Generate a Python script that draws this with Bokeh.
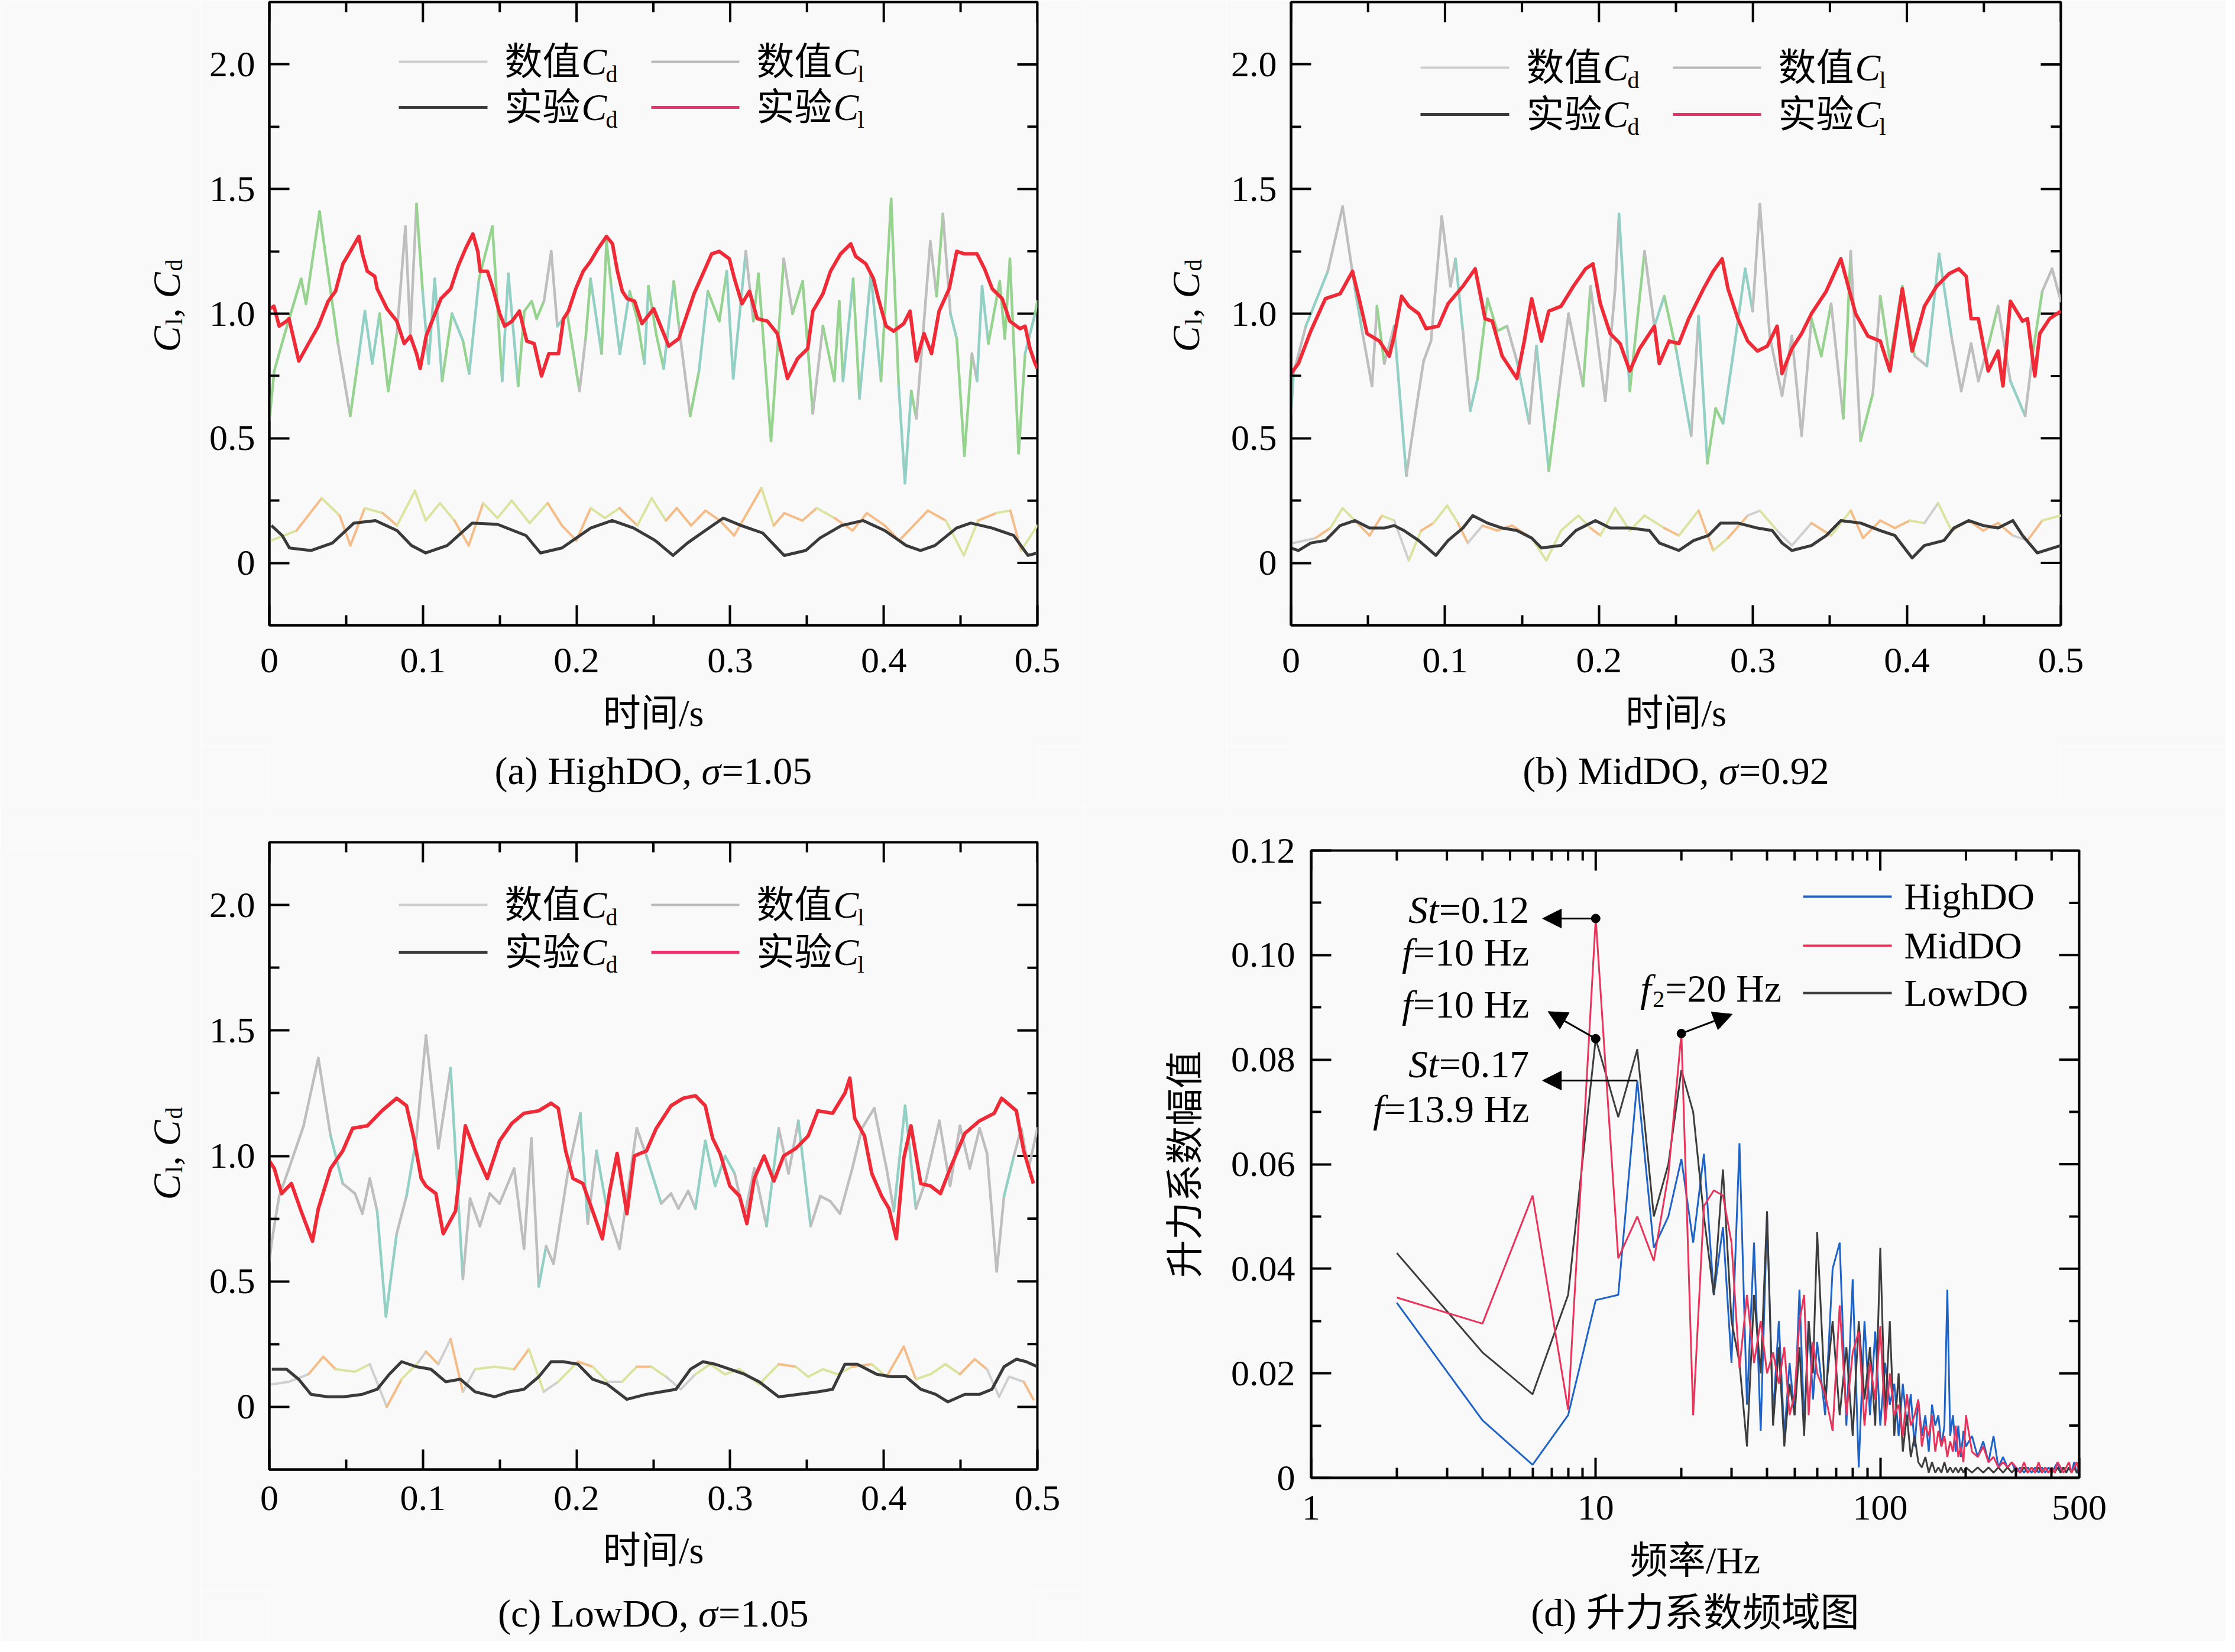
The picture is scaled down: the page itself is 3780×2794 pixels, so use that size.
import math
from bokeh.plotting import figure
from bokeh.layouts import column, row
from bokeh.models import (Range1d, FixedTicker, Label, Title, Arrow, NormalHead, PrintfTickFormatter)
from bokeh.embed import file_html
from bokeh.resources import INLINE

# ======================= DATA =======================
# ---- (a) HighDO ----
a_num_cl_t = [0.0, 0.0032, 0.0096, 0.0207, 0.0239, 0.0327, 0.0383, 0.0447, 0.0527, 0.0575, 0.0622, 0.067, 0.0718, 0.0774, 0.083, 0.0886, 0.0918, 0.0958, 0.0998, 0.1037, 0.1077, 0.1125, 0.1189, 0.1229, 0.1261, 0.1301, 0.1365, 0.1452, 0.1516, 0.1556, 0.162, 0.166, 0.1708, 0.174, 0.1788, 0.1835, 0.1875, 0.1939, 0.2019, 0.2059, 0.2091, 0.2163, 0.2195, 0.2226, 0.2282, 0.2346, 0.2394, 0.2442, 0.2468, 0.2518, 0.2567, 0.2633, 0.2666, 0.274, 0.2797, 0.2855, 0.2929, 0.2978, 0.302, 0.3102, 0.3151, 0.3184, 0.3266, 0.3349, 0.3406, 0.3472, 0.3538, 0.3604, 0.3678, 0.371, 0.3735, 0.3801, 0.3842, 0.3916, 0.3982, 0.4048, 0.4097, 0.4138, 0.4179, 0.4212, 0.4262, 0.4303, 0.4344, 0.4385, 0.4434, 0.4475, 0.4525, 0.4574, 0.4607, 0.464, 0.4681, 0.4755, 0.4788, 0.4821, 0.4878, 0.492, 0.4985, 0.5]
a_num_cl = [0.57, 0.77, 0.91, 1.14, 1.04, 1.41, 1.16, 0.88, 0.59, 0.8, 1.01, 0.8, 1.0, 0.69, 0.92, 1.35, 0.92, 1.44, 1.09, 0.8, 1.14, 0.73, 1.0, 0.94, 0.89, 0.76, 1.14, 1.35, 0.73, 1.16, 0.71, 1.01, 1.05, 0.98, 1.05, 1.25, 0.95, 1.0, 0.69, 0.9, 1.14, 0.84, 1.29, 1.11, 0.84, 1.09, 0.98, 0.8, 1.11, 0.92, 0.78, 1.13, 0.95, 0.59, 0.77, 1.09, 0.97, 1.17, 0.74, 1.25, 0.97, 1.16, 0.49, 1.22, 1.0, 1.13, 0.6, 0.95, 0.73, 1.05, 0.73, 1.14, 0.66, 1.16, 0.73, 1.46, 0.71, 0.32, 0.69, 0.58, 0.97, 1.29, 1.07, 1.4, 1.0, 0.9, 0.43, 0.84, 0.73, 1.11, 0.88, 1.13, 0.9, 1.22, 0.44, 0.84, 1.0, 1.05]
a_exp_cl_t = [0.0, 0.003, 0.0064, 0.0112, 0.0128, 0.0192, 0.0255, 0.0319, 0.0383, 0.0431, 0.0479, 0.0527, 0.0583, 0.0606, 0.0638, 0.0686, 0.0702, 0.0766, 0.083, 0.0878, 0.0918, 0.0958, 0.0982, 0.1021, 0.1117, 0.1181, 0.1229, 0.1277, 0.1325, 0.1357, 0.1373, 0.142, 0.1452, 0.15, 0.1532, 0.158, 0.1628, 0.166, 0.1676, 0.1724, 0.1772, 0.182, 0.1883, 0.1915, 0.1947, 0.1995, 0.2043, 0.2091, 0.2139, 0.2195, 0.2234, 0.2266, 0.2298, 0.233, 0.2378, 0.2426, 0.2502, 0.26, 0.2666, 0.2765, 0.283, 0.288, 0.2929, 0.2995, 0.3028, 0.3077, 0.3126, 0.3176, 0.3242, 0.3307, 0.3373, 0.3439, 0.3505, 0.3538, 0.3604, 0.3653, 0.3719, 0.3785, 0.3817, 0.3883, 0.3933, 0.3965, 0.4015, 0.4064, 0.413, 0.4171, 0.4212, 0.4262, 0.4311, 0.436, 0.4426, 0.4475, 0.4525, 0.4607, 0.4656, 0.4706, 0.4771, 0.4821, 0.4887, 0.492, 0.4952, 0.4985, 0.5]
a_exp_cl = [1.02, 1.03, 0.95, 0.97, 0.98, 0.81, 0.88, 0.95, 1.05, 1.09, 1.2, 1.25, 1.31, 1.24, 1.17, 1.15, 1.1, 1.02, 0.97, 0.88, 0.91, 0.84, 0.78, 0.91, 1.06, 1.1, 1.19, 1.26, 1.32, 1.25, 1.17, 1.17, 1.11, 1.0, 0.95, 0.97, 1.01, 0.93, 0.89, 0.88, 0.75, 0.84, 0.84, 0.98, 1.01, 1.1, 1.17, 1.21, 1.26, 1.31, 1.28, 1.17, 1.09, 1.06, 1.05, 0.96, 1.02, 0.87, 0.9, 1.08, 1.17, 1.24, 1.25, 1.22, 1.14, 1.04, 1.09, 0.98, 0.97, 0.92, 0.74, 0.82, 0.86, 1.01, 1.08, 1.17, 1.24, 1.28, 1.23, 1.2, 1.14, 1.06, 0.95, 0.93, 0.96, 1.01, 0.81, 0.92, 0.84, 1.01, 1.1, 1.25, 1.24, 1.24, 1.18, 1.1, 1.06, 0.97, 0.94, 0.95, 0.86, 0.8, 0.78]
a_exp_cd_t = [0.0014, 0.0084, 0.0131, 0.0271, 0.0411, 0.0551, 0.0691, 0.0831, 0.0925, 0.1018, 0.1158, 0.1321, 0.1485, 0.1671, 0.1765, 0.1905, 0.2092, 0.2232, 0.2372, 0.2512, 0.2628, 0.2722, 0.2838, 0.2955, 0.3072, 0.3212, 0.3352, 0.3492, 0.3585, 0.3725, 0.3866, 0.4006, 0.4146, 0.4239, 0.4333, 0.4473, 0.4566, 0.4706, 0.4846, 0.4939, 0.5]
a_exp_cd = [0.15, 0.11, 0.06, 0.05, 0.08, 0.16, 0.17, 0.13, 0.07, 0.04, 0.07, 0.16, 0.155, 0.11, 0.04, 0.06, 0.14, 0.17, 0.14, 0.09, 0.03, 0.08, 0.13, 0.18, 0.15, 0.12, 0.03, 0.05, 0.1, 0.15, 0.17, 0.13, 0.07, 0.05, 0.07, 0.14, 0.16, 0.14, 0.11, 0.03, 0.04]
a_num_cd_t = [0.0014, 0.0177, 0.0341, 0.0458, 0.0528, 0.0621, 0.0738, 0.0831, 0.0948, 0.1018, 0.1111, 0.1205, 0.1298, 0.1392, 0.1485, 0.1578, 0.1695, 0.1812, 0.1905, 0.1999, 0.2092, 0.2185, 0.2279, 0.2396, 0.2489, 0.2582, 0.2652, 0.2746, 0.2839, 0.2933, 0.3026, 0.312, 0.3204, 0.3283, 0.3353, 0.347, 0.3563, 0.368, 0.3797, 0.389, 0.4007, 0.41, 0.4194, 0.4287, 0.4404, 0.4521, 0.4614, 0.4731, 0.4824, 0.4894, 0.5]
a_num_cd = [0.09, 0.13, 0.26, 0.19, 0.07, 0.22, 0.2, 0.15, 0.29, 0.17, 0.24, 0.17, 0.07, 0.24, 0.18, 0.25, 0.16, 0.24, 0.15, 0.09, 0.22, 0.18, 0.22, 0.15, 0.26, 0.17, 0.22, 0.15, 0.21, 0.17, 0.11, 0.21, 0.3, 0.15, 0.2, 0.17, 0.22, 0.18, 0.13, 0.2, 0.15, 0.09, 0.15, 0.21, 0.17, 0.03, 0.17, 0.2, 0.21, 0.05, 0.15]

# ---- (b) MidDO ----
b_num_cl_t = [0.0, 0.0016, 0.0096, 0.0239, 0.0335, 0.0415, 0.0462, 0.0526, 0.0558, 0.0606, 0.067, 0.0749, 0.0813, 0.0861, 0.0909, 0.0979, 0.1036, 0.1068, 0.1116, 0.1164, 0.1212, 0.1276, 0.1339, 0.1403, 0.1467, 0.1547, 0.1594, 0.1674, 0.1738, 0.1802, 0.1897, 0.1945, 0.2041, 0.2105, 0.213, 0.22, 0.2296, 0.236, 0.2424, 0.2503, 0.2599, 0.2647, 0.2704, 0.2758, 0.2806, 0.287, 0.295, 0.2998, 0.3045, 0.3109, 0.3189, 0.3253, 0.3316, 0.338, 0.3444, 0.3508, 0.3587, 0.3635, 0.3699, 0.3779, 0.3827, 0.389, 0.397, 0.405, 0.413, 0.4209, 0.4289, 0.4353, 0.4417, 0.4464, 0.4528, 0.4592, 0.4672, 0.4768, 0.4815, 0.4879, 0.4943, 0.5]
b_num_cl = [0.6, 0.76, 0.95, 1.17, 1.43, 1.1, 0.93, 0.71, 1.03, 0.8, 0.95, 0.35, 0.62, 0.81, 0.89, 1.39, 1.11, 1.22, 0.93, 0.61, 0.74, 1.06, 0.93, 0.95, 0.81, 0.56, 0.87, 0.37, 0.68, 1.0, 0.71, 1.11, 0.65, 1.1, 1.4, 0.69, 1.25, 0.95, 1.07, 0.85, 0.51, 0.99, 0.4, 0.62, 0.56, 0.83, 1.18, 1.01, 1.44, 0.91, 0.67, 0.91, 0.51, 0.98, 0.83, 1.04, 0.58, 1.25, 0.49, 0.68, 1.07, 0.81, 1.11, 0.83, 0.79, 1.24, 0.91, 0.69, 0.88, 0.73, 0.87, 1.03, 0.73, 0.59, 0.83, 1.09, 1.18, 1.05]
b_exp_cl_t = [0.0, 0.0048, 0.0128, 0.0223, 0.0319, 0.0399, 0.0446, 0.0494, 0.0574, 0.0638, 0.067, 0.0718, 0.0765, 0.0829, 0.0877, 0.0957, 0.102, 0.1116, 0.1196, 0.126, 0.1307, 0.1371, 0.1467, 0.1515, 0.1563, 0.1626, 0.1674, 0.1754, 0.1834, 0.1913, 0.1961, 0.2009, 0.2073, 0.2137, 0.22, 0.2264, 0.236, 0.2392, 0.2455, 0.2519, 0.2583, 0.2679, 0.2742, 0.28, 0.2838, 0.2902, 0.2966, 0.3029, 0.3093, 0.3157, 0.3189, 0.3253, 0.3316, 0.338, 0.3476, 0.3571, 0.3619, 0.3667, 0.3747, 0.3827, 0.389, 0.397, 0.4034, 0.4114, 0.4193, 0.4273, 0.4337, 0.4385, 0.4417, 0.4464, 0.4528, 0.4592, 0.4624, 0.4672, 0.4751, 0.4783, 0.4831, 0.4863, 0.4927, 0.5]
b_exp_cl = [0.76, 0.8, 0.93, 1.06, 1.08, 1.17, 1.05, 0.92, 0.89, 0.83, 0.91, 1.07, 1.03, 1.0, 0.94, 0.95, 1.04, 1.11, 1.18, 0.98, 0.97, 0.83, 0.74, 0.89, 1.06, 0.89, 1.01, 1.03, 1.11, 1.18, 1.2, 1.04, 0.92, 0.88, 0.77, 0.86, 0.95, 0.8, 0.89, 0.88, 0.98, 1.1, 1.17, 1.22, 1.1, 0.98, 0.89, 0.85, 0.87, 0.95, 0.76, 0.86, 0.92, 1.0, 1.09, 1.22, 1.11, 1.0, 0.91, 0.89, 0.77, 1.1, 0.85, 1.03, 1.11, 1.16, 1.18, 1.15, 0.98, 0.98, 0.77, 0.85, 0.71, 1.05, 0.97, 0.98, 0.75, 0.92, 0.98, 1.01]
b_exp_cd_t = [0.0, 0.0048, 0.0128, 0.0223, 0.0319, 0.0415, 0.051, 0.0606, 0.067, 0.0733, 0.0829, 0.0941, 0.102, 0.1116, 0.118, 0.1276, 0.1371, 0.1467, 0.1563, 0.1626, 0.1754, 0.185, 0.1977, 0.2073, 0.22, 0.2328, 0.2392, 0.2519, 0.2615, 0.2711, 0.279, 0.2902, 0.3029, 0.3125, 0.3189, 0.3253, 0.338, 0.3476, 0.3571, 0.3699, 0.3827, 0.3922, 0.4034, 0.4114, 0.4241, 0.4305, 0.4401, 0.4496, 0.4592, 0.4688, 0.4751, 0.4847, 0.5]
b_exp_cd = [0.06, 0.05, 0.08, 0.09, 0.15, 0.17, 0.14, 0.14, 0.15, 0.13, 0.09, 0.03, 0.09, 0.14, 0.19, 0.16, 0.14, 0.13, 0.1, 0.06, 0.07, 0.13, 0.17, 0.14, 0.14, 0.13, 0.08, 0.05, 0.09, 0.11, 0.16, 0.16, 0.14, 0.13, 0.08, 0.05, 0.07, 0.11, 0.17, 0.16, 0.13, 0.11, 0.02, 0.07, 0.09, 0.14, 0.17, 0.15, 0.14, 0.17, 0.11, 0.04, 0.07]
b_num_cd_t = [0.0016, 0.0159, 0.0255, 0.0335, 0.0415, 0.051, 0.059, 0.067, 0.0765, 0.0845, 0.0925, 0.1014, 0.1084, 0.1148, 0.1244, 0.1339, 0.1435, 0.1563, 0.1658, 0.1754, 0.1866, 0.1945, 0.2009, 0.2105, 0.22, 0.2296, 0.2424, 0.2519, 0.2647, 0.2742, 0.2838, 0.2966, 0.3045, 0.3157, 0.3253, 0.338, 0.3508, 0.3635, 0.3715, 0.3827, 0.3922, 0.4018, 0.4114, 0.4203, 0.4289, 0.4401, 0.4496, 0.4592, 0.4688, 0.4783, 0.4879, 0.5]
b_num_cd = [0.08, 0.1, 0.14, 0.22, 0.17, 0.11, 0.19, 0.17, 0.01, 0.13, 0.16, 0.23, 0.16, 0.08, 0.15, 0.13, 0.15, 0.1, 0.01, 0.13, 0.19, 0.14, 0.11, 0.22, 0.13, 0.19, 0.14, 0.11, 0.21, 0.05, 0.1, 0.19, 0.21, 0.13, 0.07, 0.16, 0.11, 0.21, 0.1, 0.17, 0.14, 0.17, 0.16, 0.24, 0.13, 0.17, 0.13, 0.16, 0.11, 0.09, 0.17, 0.19]

# ---- (c) LowDO ----
c_num_cl_t = [0.0, 0.0016, 0.0064, 0.0128, 0.0223, 0.0319, 0.0399, 0.0478, 0.0558, 0.0606, 0.0654, 0.0702, 0.0759, 0.0829, 0.0893, 0.0957, 0.102, 0.11, 0.118, 0.126, 0.1307, 0.1371, 0.1435, 0.1499, 0.1594, 0.1658, 0.1706, 0.1754, 0.1802, 0.185, 0.1945, 0.2025, 0.2073, 0.213, 0.22, 0.228, 0.2392, 0.2455, 0.2551, 0.2615, 0.2663, 0.2727, 0.2774, 0.2838, 0.2902, 0.2966, 0.3029, 0.3093, 0.3157, 0.3237, 0.3316, 0.338, 0.3444, 0.3524, 0.3587, 0.3651, 0.3715, 0.3795, 0.3858, 0.3938, 0.4018, 0.4066, 0.4139, 0.4209, 0.4273, 0.4362, 0.4432, 0.4496, 0.456, 0.4624, 0.4672, 0.4735, 0.4783, 0.4847, 0.4895, 0.4943, 0.5]
c_num_cl = [0.58, 0.66, 0.84, 0.95, 1.12, 1.39, 1.08, 0.89, 0.85, 0.77, 0.91, 0.78, 0.36, 0.69, 0.84, 1.07, 1.48, 1.03, 1.35, 0.51, 0.83, 0.72, 0.85, 0.81, 0.95, 0.63, 1.07, 0.48, 0.64, 0.57, 0.94, 1.17, 0.73, 1.02, 0.78, 0.63, 1.11, 1.0, 0.81, 0.85, 0.79, 0.86, 0.79, 1.06, 0.88, 1.0, 0.93, 0.76, 0.95, 0.72, 1.11, 0.93, 1.14, 0.72, 0.84, 0.82, 0.77, 0.95, 1.11, 1.19, 0.95, 0.78, 1.2, 0.79, 0.9, 1.14, 0.88, 1.12, 0.95, 1.11, 1.01, 0.54, 0.84, 1.0, 1.11, 0.95, 1.11]
c_exp_cl_t = [0.0, 0.0032, 0.008, 0.0144, 0.0207, 0.0281, 0.0319, 0.0399, 0.0478, 0.0542, 0.0638, 0.0733, 0.0829, 0.0893, 0.0941, 0.0989, 0.102, 0.1084, 0.1132, 0.1212, 0.1244, 0.1276, 0.1339, 0.1419, 0.1499, 0.1579, 0.1658, 0.1754, 0.1834, 0.1881, 0.1929, 0.1977, 0.2041, 0.2105, 0.2168, 0.2216, 0.2264, 0.2328, 0.2376, 0.2455, 0.2519, 0.2615, 0.2695, 0.2774, 0.2838, 0.2886, 0.2934, 0.2998, 0.3061, 0.3109, 0.3157, 0.3221, 0.3285, 0.3348, 0.3428, 0.3508, 0.3571, 0.3667, 0.3747, 0.3779, 0.3811, 0.3874, 0.3922, 0.3986, 0.4034, 0.4082, 0.413, 0.4177, 0.4241, 0.4305, 0.4369, 0.4432, 0.4528, 0.4624, 0.4719, 0.4767, 0.4863, 0.4911, 0.4974]
c_exp_cl = [0.98, 0.95, 0.85, 0.89, 0.78, 0.66, 0.79, 0.95, 1.02, 1.11, 1.12, 1.18, 1.23, 1.2, 1.07, 0.91, 0.88, 0.85, 0.69, 0.78, 0.95, 1.12, 1.02, 0.91, 1.06, 1.13, 1.17, 1.18, 1.21, 1.19, 1.02, 0.91, 0.89, 0.78, 0.67, 0.86, 1.01, 0.77, 1.0, 1.02, 1.11, 1.2, 1.23, 1.24, 1.2, 1.07, 1.01, 0.88, 0.84, 0.73, 0.91, 1.0, 0.9, 1.0, 1.03, 1.08, 1.18, 1.17, 1.25, 1.31, 1.15, 1.08, 0.93, 0.84, 0.79, 0.67, 0.99, 1.12, 0.89, 0.88, 0.85, 0.95, 1.09, 1.14, 1.17, 1.23, 1.18, 1.02, 0.89]
c_exp_cd_t = [0.0016, 0.0112, 0.0191, 0.0271, 0.0383, 0.0478, 0.0606, 0.0702, 0.0781, 0.0861, 0.0957, 0.1052, 0.1148, 0.1244, 0.1339, 0.1467, 0.1563, 0.1658, 0.1754, 0.1834, 0.1913, 0.2009, 0.2105, 0.22, 0.2264, 0.2328, 0.2455, 0.2551, 0.2647, 0.2742, 0.2822, 0.2902, 0.2998, 0.3093, 0.3189, 0.3316, 0.3444, 0.3571, 0.3667, 0.3747, 0.3827, 0.3954, 0.405, 0.4145, 0.4241, 0.4337, 0.4417, 0.4528, 0.4624, 0.4704, 0.4783, 0.4863, 0.4927, 0.5]
c_exp_cd = [0.15, 0.15, 0.11, 0.05, 0.04, 0.04, 0.05, 0.07, 0.13, 0.18, 0.16, 0.15, 0.1, 0.11, 0.06, 0.04, 0.06, 0.07, 0.12, 0.18, 0.18, 0.17, 0.11, 0.09, 0.06, 0.03, 0.05, 0.06, 0.07, 0.15, 0.18, 0.17, 0.15, 0.13, 0.1, 0.04, 0.05, 0.06, 0.07, 0.17, 0.17, 0.13, 0.12, 0.12, 0.07, 0.05, 0.02, 0.05, 0.05, 0.07, 0.16, 0.19, 0.18, 0.16]
c_num_cd_t = [0.0016, 0.0128, 0.0255, 0.0351, 0.0431, 0.0558, 0.0654, 0.0765, 0.0861, 0.0973, 0.102, 0.11, 0.118, 0.126, 0.1339, 0.1467, 0.1594, 0.169, 0.1786, 0.1881, 0.2009, 0.2105, 0.22, 0.2296, 0.2392, 0.2487, 0.2583, 0.2679, 0.2774, 0.287, 0.2966, 0.3061, 0.3189, 0.3316, 0.3428, 0.3508, 0.3603, 0.3699, 0.3795, 0.3922, 0.4018, 0.413, 0.4209, 0.4305, 0.4401, 0.4496, 0.4592, 0.4672, 0.4751, 0.4815, 0.4911, 0.4974]
c_num_cd = [0.09, 0.1, 0.13, 0.2, 0.15, 0.14, 0.17, 0.0, 0.11, 0.18, 0.22, 0.17, 0.27, 0.06, 0.15, 0.16, 0.15, 0.23, 0.06, 0.1, 0.18, 0.16, 0.1, 0.1, 0.16, 0.16, 0.12, 0.07, 0.13, 0.17, 0.13, 0.15, 0.09, 0.17, 0.16, 0.12, 0.15, 0.13, 0.16, 0.17, 0.12, 0.24, 0.11, 0.13, 0.17, 0.13, 0.19, 0.15, 0.04, 0.12, 0.1, 0.03]

# ---- (d) lift-coefficient spectrum ----
freq = [2, 4, 6, 8, 10, 12, 14, 16, 18, 20, 22, 24, 26, 28, 30, 32, 34, 36, 38, 40, 42, 44, 46, 48, 50, 52, 54, 56, 58, 60,
        64, 68, 72, 76, 80, 84, 88, 92, 96, 100, 104, 108, 112, 116, 120, 124, 128, 132, 136, 140, 144, 148, 152, 156, 160, 164, 168, 172, 176, 180, 184, 188, 192, 196, 200,
        210, 220, 230, 240, 250, 260, 270, 280, 290, 300, 310, 320, 330, 340, 350, 360, 370, 380, 390, 400, 410, 420, 430, 440, 450, 460, 470, 480, 490, 500]
amp_high = [0.0335, 0.011, 0.0025, 0.012, 0.034, 0.035, 0.076, 0.044, 0.050, 0.061, 0.045, 0.062, 0.035, 0.048, 0.022, 0.064, 0.014, 0.045, 0.009, 0.050, 0.012, 0.030, 0.008, 0.022, 0.012, 0.036, 0.010, 0.030, 0.015, 0.026,
            0.012, 0.040, 0.045, 0.010, 0.038, 0.002, 0.030, 0.012, 0.028, 0.010, 0.022, 0.014, 0.018, 0.008, 0.018, 0.010, 0.016, 0.006, 0.015, 0.008, 0.012, 0.005, 0.014, 0.010, 0.012, 0.006, 0.010, 0.036, 0.008, 0.012, 0.005, 0.010, 0.004, 0.009, 0.006,
            0.008, 0.004, 0.007, 0.003, 0.008, 0.002, 0.004, 0.002, 0.003, 0.001, 0.002, 0.001, 0.002, 0.001, 0.002, 0.001, 0.002, 0.001, 0.002, 0.001, 0.002, 0.003, 0.001, 0.002, 0.001, 0.002, 0.001, 0.003, 0.001, 0.001]
amp_mid = [0.0345, 0.0295, 0.054, 0.013, 0.107, 0.042, 0.050, 0.0415, 0.058, 0.085, 0.012, 0.052, 0.055, 0.054, 0.045, 0.021, 0.035, 0.022, 0.030, 0.020, 0.024, 0.018, 0.025, 0.012, 0.016, 0.030, 0.035, 0.012, 0.026, 0.020,
           0.016, 0.009, 0.033, 0.012, 0.024, 0.028, 0.010, 0.022, 0.015, 0.029, 0.010, 0.020, 0.012, 0.014, 0.008, 0.016, 0.010, 0.012, 0.015, 0.006, 0.010, 0.008, 0.012, 0.005, 0.009, 0.006, 0.008, 0.004, 0.007, 0.005, 0.010, 0.004, 0.006, 0.003, 0.012,
           0.005, 0.004, 0.006, 0.003, 0.004, 0.002, 0.003, 0.002, 0.003, 0.002, 0.001, 0.003, 0.001, 0.002, 0.001, 0.003, 0.001, 0.002, 0.001, 0.002, 0.001, 0.003, 0.002, 0.001, 0.002, 0.003, 0.001, 0.002, 0.003, 0.001]
amp_low = [0.043, 0.024, 0.016, 0.035, 0.084, 0.069, 0.082, 0.050, 0.060, 0.078, 0.070, 0.050, 0.035, 0.059, 0.030, 0.022, 0.006, 0.035, 0.020, 0.051, 0.010, 0.025, 0.006, 0.018, 0.012, 0.025, 0.008, 0.030, 0.020, 0.047,
           0.015, 0.030, 0.012, 0.025, 0.008, 0.030, 0.015, 0.025, 0.010, 0.044, 0.012, 0.030, 0.008, 0.020, 0.005, 0.012, 0.004, 0.008, 0.003, 0.002, 0.004, 0.001, 0.003, 0.001, 0.002, 0.001, 0.003, 0.001, 0.002, 0.001, 0.002, 0.001, 0.002, 0.001, 0.002,
           0.001, 0.002, 0.001, 0.002, 0.001, 0.002, 0.001, 0.002, 0.001, 0.002, 0.001, 0.002, 0.001, 0.002, 0.001, 0.002, 0.001, 0.002, 0.001, 0.002, 0.001, 0.002, 0.001, 0.002, 0.001, 0.002, 0.001, 0.002, 0.001, 0.002]

time_ticks = [0, 0.1, 0.2, 0.3, 0.4, 0.5]
time_minor = [0.05, 0.15, 0.25, 0.35, 0.45]
coef_ticks = [0, 0.5, 1.0, 1.5, 2.0]
coef_minor = [0.25, 0.75, 1.25, 1.75]
amp_ticks = [0, 0.02, 0.04, 0.06, 0.08, 0.10, 0.12]
amp_minor = [0.01, 0.03, 0.05, 0.07, 0.09, 0.11]
freq_ticks = [1, 10, 100, 500]
freq_minor = [2, 3, 4, 5, 6, 7, 8, 9, 20, 30, 40, 50, 60, 70, 80, 90, 200, 300, 400]
cap_heads = ["(a) HighDO, ", "(b) MidDO, ", "(c) LowDO, "]
cap_sigma = ["=1.05", "=0.92", "=1.05"]
cap_d = "(d) 升力系数频域图"

# ======================= STYLE =======================
SERIF = "Liberation Serif, Noto Sans CJK SC"
BG = "#f9f9f9"
CL_GREEN, CL_TEAL, CL_GRAY = "#95d38f", "#92cfc4", "#bebebe"
CD_ORANGE, CD_YEL, CD_GRAY = "#f6bc88", "#dbe39e", "#cfcfcf"
EXP_CL = "#ef2b38"
EXP_CD = "#3a3a3a"
MAJ, MIN = 34, 17


def style_axis(ax, standoff=20):
    ax.axis_line_color = "black"
    ax.axis_line_width = 4
    ax.major_tick_line_color = "black"
    ax.major_tick_line_width = 4
    ax.minor_tick_line_color = "black"
    ax.minor_tick_line_width = 4
    ax.major_tick_in = MAJ
    ax.major_tick_out = 0
    ax.minor_tick_in = MIN
    ax.minor_tick_out = 0
    ax.major_label_text_font = SERIF
    ax.major_label_text_color = "black"
    ax.major_label_text_font_size = "62px"
    ax.major_label_standoff = standoff
    ax.axis_label_text_font = SERIF
    ax.axis_label_text_font_size = "64px"
    ax.axis_label_text_font_style = "normal"
    ax.axis_label_text_color = "black"


def lab(p, x, y, text, size, style="normal", align="left", baseline="middle", angle=0.0, xoff=0):
    p.add_layout(Label(x=x, y=y, text=text, text_font=SERIF, text_font_size=f"{size}px",
                       text_font_style=style, text_align=align, text_baseline=baseline,
                       angle=angle, x_offset=xoff, text_color="black"))


class Frame:
    def __init__(self, fw, fh, x0, x1, y0, y1, logx=False):
        self.fw, self.fh, self.x0, self.x1, self.y0, self.y1, self.logx = fw, fh, x0, x1, y0, y1, logx

    def x(self, px):
        if self.logx:
            a, b = math.log10(self.x0), math.log10(self.x1)
            return 10 ** (a + px / self.fw * (b - a))
        return self.x0 + px / self.fw * (self.x1 - self.x0)

    def y(self, py):
        return self.y1 - py / self.fh * (self.y1 - self.y0)


def mirror_ticks(p, F, xt, xm, yt, ym):
    # inward ticks on the top and right frame edges
    x0, y0, x1, y1 = [], [], [], []
    for v, L in [(v, MAJ) for v in xt] + [(v, MIN) for v in xm]:
        x0.append(v); x1.append(v); y0.append(F.y(0)); y1.append(F.y(L))
    for v, L in [(v, MAJ) for v in yt] + [(v, MIN) for v in ym]:
        y0.append(v); y1.append(v); x0.append(F.x(F.fw)); x1.append(F.x(F.fw - L))
    p.segment(x0=x0, y0=y0, x1=x1, y1=y1, line_color="black", line_width=4)


def banded(p, t, v, palette, band, width):
    n = min(len(t), len(v))
    x0, y0, x1, y1, cols = [], [], [], [], []
    for i in range(n - 1):
        mid = 0.5 * (v[i] + v[i + 1])
        k = int(math.floor(mid / band)) % len(palette)
        x0.append(t[i]); y0.append(v[i]); x1.append(t[i + 1]); y1.append(v[i + 1])
        cols.append(palette[k])
    p.segment(x0=x0, y0=y0, x1=x1, y1=y1, line_color=cols, line_width=width, line_cap="round")


def cut(t, v):
    n = min(len(t), len(v))
    return list(t[:n]), list(v[:n])


def strip(fw, fh, left=0, right=0, top=0, bottom=0):
    s = figure(frame_width=fw, frame_height=fh, x_range=Range1d(0, fw), y_range=Range1d(0, fh),
               x_axis_type=None, y_axis_type=None, output_backend="svg", toolbar_location=None,
               min_border_left=left, min_border_right=right, min_border_top=top, min_border_bottom=bottom,
               background_fill_color=BG, border_fill_color=BG, outline_line_color=None)
    s.grid.visible = False
    return s


def time_panel(fw, fh, mbl, mbr, mbt, mbb, data, leg_rows, pal_cl, pal_cd, x_std, xl_std):
    num_cl_t, num_cl, exp_cl_t, exp_cl, num_cd_t, num_cd, exp_cd_t, exp_cd = data
    p = figure(frame_width=fw, frame_height=fh, x_range=Range1d(0, 0.5), y_range=Range1d(-0.25, 2.25),
               output_backend="svg", toolbar_location=None,
               min_border_left=mbl, min_border_right=mbr, min_border_top=mbt, min_border_bottom=mbb,
               background_fill_color=BG, border_fill_color=BG,
               outline_line_color="black", outline_line_width=4)
    p.grid.visible = False
    p.xaxis.ticker = FixedTicker(ticks=time_ticks, minor_ticks=time_minor)
    p.yaxis.ticker = FixedTicker(ticks=coef_ticks, minor_ticks=coef_minor)
    p.xaxis.formatter = PrintfTickFormatter(format="%.1f")
    p.yaxis.formatter = PrintfTickFormatter(format="%.1f")
    p.xaxis.major_label_overrides = {0: "0"}
    p.yaxis.major_label_overrides = {0: "0"}
    for ax in p.xaxis:
        style_axis(ax, x_std)
        ax.axis_label = "时间/s"
        ax.axis_label_standoff = xl_std
    for ax in p.yaxis:
        style_axis(ax, 24)
    F = Frame(fw, fh, 0, 0.5, -0.25, 2.25)
    mirror_ticks(p, F, time_ticks, time_minor, coef_ticks, coef_minor)

    t, v = cut(num_cd_t, num_cd)
    banded(p, t, v, pal_cd, 0.04, 4)
    t, v = cut(num_cl_t, num_cl)
    banded(p, t, v, pal_cl, 0.1, 4.5)
    t, v = cut(exp_cd_t, exp_cd)
    p.line(t, v, line_color=EXP_CD, line_width=5, line_join="round")
    t, v = cut(exp_cl_t, exp_cl)
    p.line(t, v, line_color=EXP_CL, line_width=6, line_join="round")

    # legend (inside the frame)
    cols = [(219, 369, 398), (646, 795, 824)]
    items = [[("数值", "d", "#cdcdcd", 4), ("数值", "l", "#b9b9b9", 4)],
             [("实验", "d", EXP_CD, 5), ("实验", "l", "#e8336a", 5)]]
    for r, py in enumerate(leg_rows):
        for c, (l0, l1, tx) in enumerate(cols):
            word, sub, color, w = items[r][c]
            yy = F.y(py)
            p.segment(x0=[F.x(l0)], y0=[yy], x1=[F.x(l1)], y1=[yy], line_color=color, line_width=w)
            lab(p, F.x(tx), yy, word, 64)
            lab(p, F.x(tx + 130), yy, "C", 64, style="italic")
            lab(p, F.x(tx + 171), F.y(py + 21), sub, 40)
    return p


def ylabel_strip(width, fh, cx, ybottom, top=0, bottom=0):
    # rotated rich axis title  C_l, C_d
    s = strip(width, fh, top=top, bottom=bottom)
    rot = math.pi / 2
    lab(s, cx, ybottom, "C", 66, style="italic", angle=rot)
    lab(s, cx + 13, ybottom + 46, "l", 40, angle=rot)
    lab(s, cx, ybottom + 58, ",", 66, angle=rot)
    lab(s, cx, ybottom + 91, "C", 66, style="italic", angle=rot)
    lab(s, cx + 13, ybottom + 137, "d", 40, angle=rot)
    return s


def caption_strip(fw, left, right, height, cy, head, tail, w_head):
    # caption "(x) Name, σ=value" with italic sigma, centred on the plot frame above
    s = strip(fw, height, left=left, right=right)
    w_sig, w_tail = 34, 153
    start = fw / 2 - (w_head + w_sig + w_tail) / 2
    P = start + w_head
    lab(s, P, cy, head, 66, align="right")
    lab(s, P, cy, "σ", 66, style="italic")
    lab(s, P + w_sig, cy, tail, 66)
    return s


ROW1_H = 3 + 1054 + 205 + 100

ya = ylabel_strip(340, ROW1_H, 281, ROW1_H - 595)
pa = time_panel(1299, 1054, 115, 80, 3, 205,
                (a_num_cl_t, a_num_cl, a_exp_cl_t, a_exp_cl, a_num_cd_t, a_num_cd, a_exp_cd_t, a_exp_cd),
                (101, 178), [CL_GREEN, CL_TEAL, CL_GREEN, CL_GRAY],
                [CD_ORANGE, CD_ORANGE, CD_YEL], 39, 31)
cap_a = caption_strip(1299, 115, 80, 100, 59, cap_heads[0], cap_sigma[0], 350)
yb = ylabel_strip(240, ROW1_H, 171, ROW1_H - 595)
pb = time_panel(1302, 1054, 109, 279, 3, 205,
                (b_num_cl_t, b_num_cl, b_exp_cl_t, b_exp_cl, b_num_cd_t, b_num_cd, b_exp_cd_t, b_exp_cd),
                (111, 190), [CL_GRAY, CL_GREEN, CL_TEAL, CL_GRAY],
                [CD_ORANGE, CD_YEL, CD_GRAY], 39, 31)
cap_b = caption_strip(1302, 109, 279, 100, 59, cap_heads[1], cap_sigma[1], 332)

# row 2: the label strip shares its frame geometry with panel (d) (frames in a row are aligned)
D_TOP, D_FH, D_BOT = 76, 1061, 276
yc = ylabel_strip(340, D_FH, 281, D_FH - 591, top=D_TOP, bottom=D_BOT)
pc = time_panel(1299, 1061, 115, 80, 62, 205,
                (c_num_cl_t, c_num_cl, c_exp_cl_t, c_exp_cl, c_num_cd_t, c_num_cd, c_exp_cd_t, c_exp_cd),
                (106, 186), [CL_GRAY, CL_TEAL, CL_GRAY, CL_GRAY],
                [CD_YEL, CD_ORANGE, CD_GRAY], 28, 30)
cap_c = caption_strip(1299, 115, 80, 85, 47, cap_heads[2], cap_sigma[2], 339)

# ---------------- (d) spectrum ----------------
FW, FH = 1299, D_FH
pd = figure(frame_width=FW, frame_height=FH, x_axis_type="log", x_range=Range1d(1, 500), y_range=Range1d(0, 0.12),
            output_backend="svg", toolbar_location=None,
            min_border_left=383, min_border_right=248, min_border_top=D_TOP, min_border_bottom=D_BOT,
            background_fill_color=BG, border_fill_color=BG,
            outline_line_color="black", outline_line_width=4)
pd.grid.visible = False
pd.xaxis.ticker = FixedTicker(ticks=freq_ticks, minor_ticks=freq_minor)
pd.yaxis.ticker = FixedTicker(ticks=amp_ticks, minor_ticks=amp_minor)
pd.xaxis.formatter = PrintfTickFormatter(format="%d")
pd.yaxis.formatter = PrintfTickFormatter(format="%.2f")
pd.yaxis.major_label_overrides = {0: "0"}
for ax in pd.xaxis:
    style_axis(ax, 30)
    ax.axis_label = "频率/Hz"
    ax.axis_label_standoff = 31
for ax in pd.yaxis:
    style_axis(ax, 27)
    ax.axis_label = "升力系数幅值"
    ax.axis_label_standoff = 39
pd.add_layout(Title(text=cap_d, align="center", text_font=SERIF, text_font_size="66px",
                    text_font_style="normal", text_color="black", standoff=22), "below")
FD = Frame(FW, FH, 1, 500, 0, 0.12, logx=True)
mirror_ticks(pd, FD, freq_ticks, freq_minor, amp_ticks, amp_minor)

BLUE, RED, GRAY = "#1f63c6", "#e8335a", "#3d3d3d"
pd.line(freq, amp_high, line_color=BLUE, line_width=3)
pd.line(freq, amp_low, line_color=GRAY, line_width=3)
pd.line(freq, amp_mid, line_color=RED, line_width=3)

i10, i14, i20 = freq.index(10), freq.index(14), freq.index(20)
peak_f = [freq[i10], freq[i10], freq[i20]]
peak_a = [amp_mid[i10], amp_low[i10], amp_mid[i20]]
pd.scatter(peak_f, peak_a, size=15, color="black")


def arrow(x0, y0, x1, y1):
    pd.add_layout(Arrow(x_start=x0, y_start=y0, x_end=x1, y_end=y1,
                        end=NormalHead(size=32, fill_color="black", line_color="black", line_width=1),
                        line_width=3, line_color="black"))


arrow(peak_f[0], peak_a[0], 6.5, peak_a[0])
arrow(peak_f[1], peak_a[1], 6.8, 0.0892)
arrow(freq[i14], amp_high[i14], 6.5, amp_high[i14])
arrow(peak_f[2], peak_a[2], 30.2, 0.0887)

XR = 5.84
lab(pd, XR, 0.1087, "=0.12", 66, align="right")
lab(pd, XR, 0.1087, "St", 66, style="italic", align="right", xoff=-153)
lab(pd, XR, 0.1006, "=10 Hz", 66, align="right")
lab(pd, XR, 0.1006, "f", 66, style="italic", align="right", xoff=-197)
lab(pd, XR, 0.0906, "=10 Hz", 66, align="right")
lab(pd, XR, 0.0906, "f", 66, style="italic", align="right", xoff=-197)
lab(pd, XR, 0.0792, "=0.17", 66, align="right")
lab(pd, XR, 0.0792, "St", 66, style="italic", align="right", xoff=-153)
lab(pd, XR, 0.0706, "=13.9 Hz", 66, align="right")
lab(pd, XR, 0.0706, "f", 66, style="italic", align="right", xoff=-246)
lab(pd, 14.35, 0.0937, "f", 66, style="italic")
lab(pd, 14.35, 0.0937 - 0.0022, "2", 40, xoff=21)
lab(pd, 14.35, 0.0937, "=20 Hz", 66, xoff=42)

leg_names = ["HighDO", "MidDO", "LowDO"]
leg_cols = [BLUE, RED, GRAY]
for k, py in enumerate([78, 161, 241]):
    yy = FD.y(py)
    pd.segment(x0=[FD.x(832)], y0=[yy], x1=[FD.x(982)], y1=[yy], line_color=leg_cols[k], line_width=4)
    lab(pd, FD.x(1003), yy, leg_names[k], 64)

layout = column(row(ya, column(pa, cap_a), yb, column(pb, cap_b)),
                row(yc, column(pc, cap_c), pd))
with open("out.html", "w") as f:
    f.write(file_html(layout, INLINE))
